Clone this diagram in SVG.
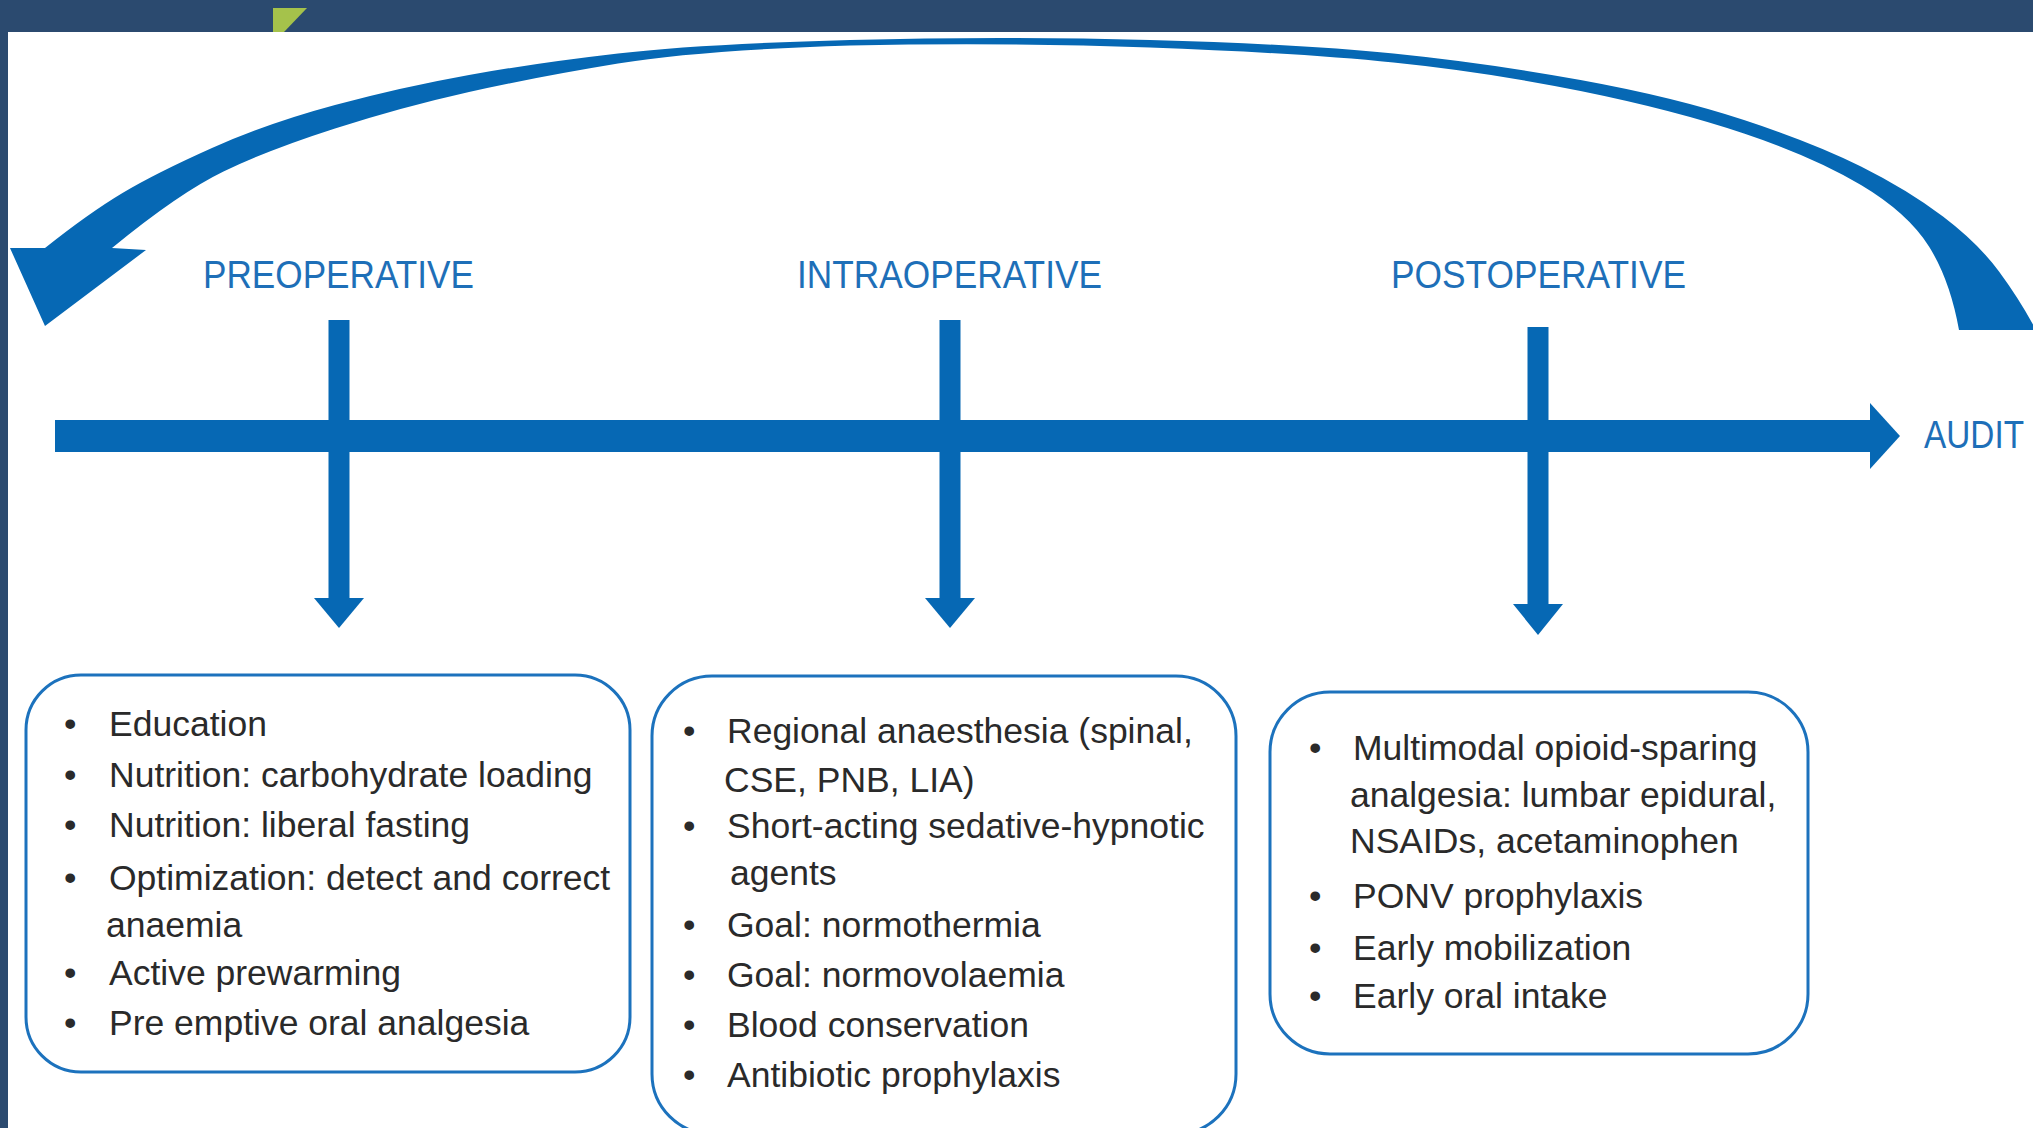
<svg xmlns="http://www.w3.org/2000/svg" width="2033" height="1128" viewBox="0 0 2033 1128">
<defs>
<style>
.frame{fill:#2b4a6f}
.blue{fill:#0668b4}
.vline{stroke:#0668b4;stroke-width:21;fill:none}
.hdr{font-family:"Liberation Sans",Arial,sans-serif;font-size:39px;fill:#1e6fb8;text-anchor:start}
.box{fill:#ffffff;stroke:#1c72bd;stroke-width:3}
.txt{font-family:"Liberation Sans",Arial,sans-serif;font-size:35.5px;fill:#2a2a2a}
</style>
</defs>
<rect x="0" y="0" width="2033" height="1128" fill="#ffffff"/>
<rect class="frame" x="0" y="0" width="2033" height="32"/>
<rect class="frame" x="0" y="0" width="8" height="1128"/>
<polygon points="273,8 307,8 284,32 273,32" fill="#a5c24b"/>

<g id="connectors">
  <path id="feedback-arrow" class="blue" d="M45,248 Q89,213 122.5,193 Q156,173 212,148 Q268,123 335,105 Q402,87 469,75 Q536,63 618,53.5 Q700,44 850,40 Q1000,36 1150,40 Q1300,44 1393.5,53.5 Q1487,63 1580.5,80 Q1674,97 1744,120 Q1814,143 1861,166.5 Q1908,190 1943,216.5 Q1978,243 1999,271.5 Q2020,300 2036,330 L1959,330 Q1950,280 1929,246.5 Q1908,213 1861,185 Q1814,157 1744,133.5 Q1674,110 1580.5,91 Q1487,72 1393.5,62.5 Q1300,53 1150,47.5 Q1000,42 850,45.5 Q700,50 618,63.5 Q536,77 469,92 Q402,107 335,128.5 Q268,150 223.5,171.5 Q179,193 112,248 L146,250 L45,326 L10,248 Z"/>
  <g id="timeline">
    <rect class="blue" x="55" y="420" width="1817" height="32"/>
    <polygon class="blue" points="1870,403 1900,436 1870,469"/>
  </g>
  <g id="arrow-pre">
    <line class="vline" x1="339" y1="320" x2="339" y2="600"/>
    <polygon class="blue" points="314,598 364,598 339,628"/>
  </g>
  <g id="arrow-intra">
    <line class="vline" x1="950" y1="320" x2="950" y2="600"/>
    <polygon class="blue" points="925,598 975,598 950,628"/>
  </g>
  <g id="arrow-post">
    <line class="vline" x1="1538" y1="327" x2="1538" y2="606"/>
    <polygon class="blue" points="1513,604 1563,604 1538,635"/>
  </g>
</g>

<g id="label-preoperative">
  <text class="hdr" x="203" y="288" textLength="271" lengthAdjust="spacingAndGlyphs">PREOPERATIVE</text>
</g>
<g id="label-intraoperative">
  <text class="hdr" x="797" y="288" textLength="305" lengthAdjust="spacingAndGlyphs">INTRAOPERATIVE</text>
</g>
<g id="label-postoperative">
  <text class="hdr" x="1391" y="288" textLength="295" lengthAdjust="spacingAndGlyphs">POSTOPERATIVE</text>
</g>
<g id="label-audit">
  <text class="hdr" x="1924" y="448" textLength="100" lengthAdjust="spacingAndGlyphs">AUDIT</text>
</g>

<g id="box-preoperative">
  <rect class="box" x="26" y="675" width="604" height="397" rx="55" ry="55"/>
  <g class="txt">
    <text x="64" y="736">•</text><text x="109" y="736">Education</text>
    <text x="64" y="787">•</text><text x="109" y="787">Nutrition: carbohydrate loading</text>
    <text x="64" y="837">•</text><text x="109" y="837">Nutrition: liberal fasting</text>
    <text x="64" y="890">•</text><text x="109" y="890">Optimization: detect and correct</text>
    <text x="106" y="937">anaemia</text>
    <text x="64" y="985">•</text><text x="109" y="985">Active prewarming</text>
    <text x="64" y="1035">•</text><text x="109" y="1035">Pre emptive oral analgesia</text>
  </g>
</g>

<g id="box-intraoperative">
  <rect class="box" x="652" y="676" width="584" height="458" rx="60" ry="60"/>
  <g class="txt">
    <text x="683" y="743">•</text><text x="727" y="743">Regional anaesthesia (spinal,</text>
    <text x="724" y="792">CSE, PNB, LIA)</text>
    <text x="683" y="838">•</text><text x="727" y="838">Short-acting sedative-hypnotic</text>
    <text x="730" y="885">agents</text>
    <text x="683" y="937">•</text><text x="727" y="937">Goal: normothermia</text>
    <text x="683" y="987">•</text><text x="727" y="987">Goal: normovolaemia</text>
    <text x="683" y="1037">•</text><text x="727" y="1037">Blood conservation</text>
    <text x="683" y="1087">•</text><text x="727" y="1087">Antibiotic prophylaxis</text>
  </g>
</g>

<g id="box-postoperative">
  <rect class="box" x="1270" y="692" width="538" height="362" rx="60" ry="60"/>
  <g class="txt">
    <text x="1309" y="760">•</text><text x="1353" y="760">Multimodal opioid-sparing</text>
    <text x="1350" y="807">analgesia: lumbar epidural,</text>
    <text x="1350" y="853">NSAIDs, acetaminophen</text>
    <text x="1309" y="908">•</text><text x="1353" y="908">PONV prophylaxis</text>
    <text x="1309" y="960">•</text><text x="1353" y="960">Early mobilization</text>
    <text x="1309" y="1008">•</text><text x="1353" y="1008">Early oral intake</text>
  </g>
</g>
</svg>
